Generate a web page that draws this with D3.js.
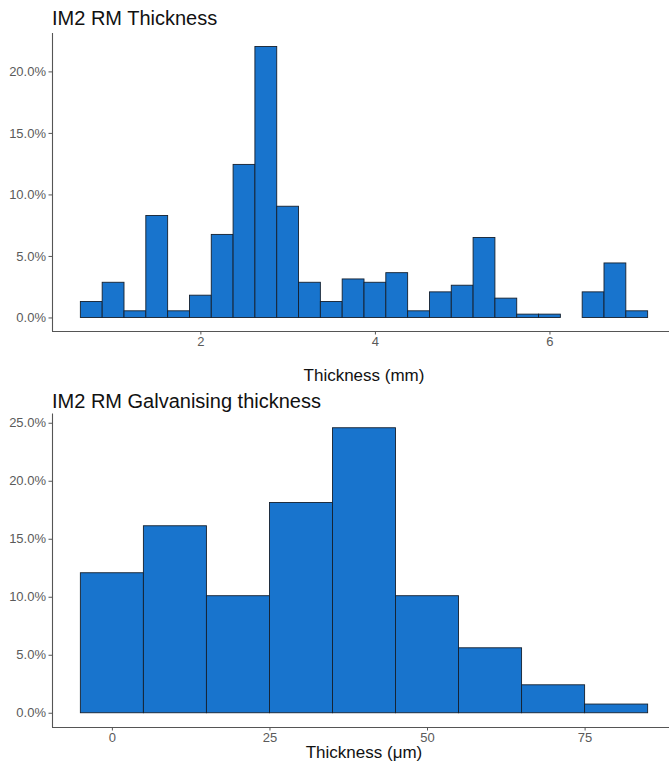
<!DOCTYPE html>
<html>
<head>
<meta charset="utf-8">
<script src="https://cdn.jsdelivr.net/npm/d3@7"></script>
<style>
  html, body { margin: 0; padding: 0; background: #fff; }
  svg { display: block; font-family: "Liberation Sans", Arial, sans-serif; }
</style>
</head>
<body>
<svg id="chart" width="669" height="765"></svg>
<script>
// ---- Data: IM2 RM Thickness (mm), bin width 0.25 ----
const thicknessBinStarts = [0.625, 0.875, 1.125, 1.375, 1.625, 1.875, 2.125, 2.375, 2.625, 2.875,
  3.125, 3.375, 3.625, 3.875, 4.125, 4.375, 4.625, 4.875, 5.125, 5.375, 5.625, 5.875, 6.125, 6.375, 6.625, 6.875];
const thicknessBinWidth = 0.25;
const thicknessPct = [1.30, 2.86, 0.54, 8.29, 0.54, 1.81, 6.75, 12.44, 22.02, 9.04,
  2.86, 1.30, 3.13, 2.86, 3.64, 0.54, 2.08, 2.62, 6.50, 1.57, 0.27, 0.27, 0.00, 2.08, 4.43, 0.54];
const thicknessXTicks = [2, 4, 6];
const thicknessYTicks = [0, 5, 10, 15, 20];

// ---- Data: IM2 RM Galvanising thickness (µm), bin width 10 ----
const galvBinStarts = [-5, 5, 15, 25, 35, 45, 55, 65, 75];
const galvBinWidth = 10;
const galvPct = [12.07, 16.12, 10.09, 18.13, 24.57, 10.09, 5.60, 2.41, 0.75];
const galvXTicks = [0, 25, 50, 75];
const galvYTicks = [0, 5, 10, 15, 20, 25];

const svg = d3.select("#chart");
const fmt = d => d3.format(".1f")(d) + "%";

function histogram(cfg) {
  const g = svg.append("g");
  const bins = cfg.starts.map((s, i) => ({ x0: s, x1: s + cfg.width, v: cfg.values[i] }));
  const xmin = d3.min(bins, d => d.x0), xmax = d3.max(bins, d => d.x1);
  const xr = xmax - xmin;
  const ymax = d3.max(bins, d => d.v);
  const x = d3.scaleLinear().domain([xmin - 0.05 * xr, xmax + 0.05 * xr]).range([cfg.left, cfg.right]);
  const y = d3.scaleLinear().domain([-0.05 * ymax, ymax * 1.05]).range([cfg.bottom, cfg.top]);

  // bars
  g.selectAll("rect.bar").data(bins.filter(d => d.v > 0)).join("rect")
    .attr("class", "bar")
    .attr("x", d => x(d.x0))
    .attr("width", d => x(d.x1) - x(d.x0))
    .attr("y", d => y(d.v))
    .attr("height", d => y(0) - y(d.v))
    .attr("fill", "#1874CD")
    .attr("stroke", "#15202e")
    .attr("stroke-width", 0.9);

  // y axis
  const yAxis = g.append("g")
    .attr("transform", `translate(${cfg.left},0)`)
    .call(d3.axisLeft(y).tickValues(cfg.yTicks).tickFormat(fmt).tickSize(3.5).tickPadding(2.5));
  // x axis
  const xAxis = g.append("g")
    .attr("transform", `translate(0,${cfg.bottom})`)
    .call(d3.axisBottom(x).tickValues(cfg.xTicks).tickFormat(d3.format("d")).tickSize(3.5).tickPadding(2));

  [yAxis, xAxis].forEach(a => {
    a.select(".domain").attr("stroke", "#555").attr("stroke-width", 1.1);
    a.selectAll(".tick line").attr("stroke", "#555").attr("stroke-width", 1);
    a.selectAll(".tick text")
      .attr("fill", "#5a5a5a")
      .style("font-size", "13px")
      .style("font-family", '"Liberation Sans", Arial, sans-serif');
  });
  yAxis.select(".domain").attr("d", `M0.5,${cfg.bottom}V${cfg.top}`);
  xAxis.select(".domain").attr("d", `M${cfg.left},0.5H${cfg.right}`);

  // title
  g.append("text")
    .attr("x", cfg.left)
    .attr("y", cfg.titleY)
    .attr("fill", "#111")
    .style("font-size", "20px")
    .text(cfg.title);

  // x axis title
  g.append("text")
    .attr("x", (cfg.left + cfg.right) / 2)
    .attr("y", cfg.xTitleY)
    .attr("text-anchor", "middle")
    .attr("fill", "#111")
    .style("font-size", "17px")
    .text(cfg.xTitle);
}

histogram({
  starts: thicknessBinStarts, width: thicknessBinWidth, values: thicknessPct,
  xTicks: thicknessXTicks, yTicks: thicknessYTicks,
  left: 52, right: 676, top: 33, bottom: 331,
  title: "IM2 RM Thickness", titleY: 25,
  xTitle: "Thickness (mm)", xTitleY: 381
});

histogram({
  starts: galvBinStarts, width: galvBinWidth, values: galvPct,
  xTicks: galvXTicks, yTicks: galvYTicks,
  left: 52, right: 676, top: 413.5, bottom: 727,
  title: "IM2 RM Galvanising thickness", titleY: 408,
  xTitle: "Thickness (\u03bcm)", xTitleY: 758
});
</script>
</body>
</html>
